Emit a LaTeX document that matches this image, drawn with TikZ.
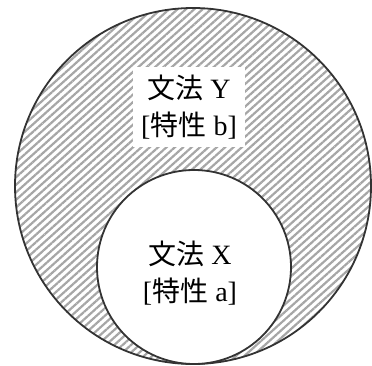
\documentclass[tikz,border=0pt]{standalone}
\usepackage{fontspec}
\setmainfont{Liberation Serif}
\newfontfamily\jafont{Noto Sans CJK JP}
\usetikzlibrary{patterns.meta}

\begin{document}
\begin{tikzpicture}[x=1pt, y=1pt,
  ring/.style={draw=black!80, line width=1.8pt},
  label/.style={align=center, inner sep=2pt, font=\fontsize{28}{37}\selectfont}]
\useasboundingbox (0,0) rectangle (372,365);

\draw[ring, pattern={Lines[angle=42, distance=5.6pt, line width=2.2pt]}, pattern color=black!35] (193,179) circle (178);
\draw[ring, fill=white] (194,98) circle (97);

\node[label, fill=white, minimum width=112, minimum height=80] (y) at (189,258) {{\jafont 文法} Y\\[0pt][{\jafont 特性} b]};
\node[label] (x) at (190,92) {{\jafont 文法} X\\[0pt][{\jafont 特性} a]};
\end{tikzpicture}
\end{document}
